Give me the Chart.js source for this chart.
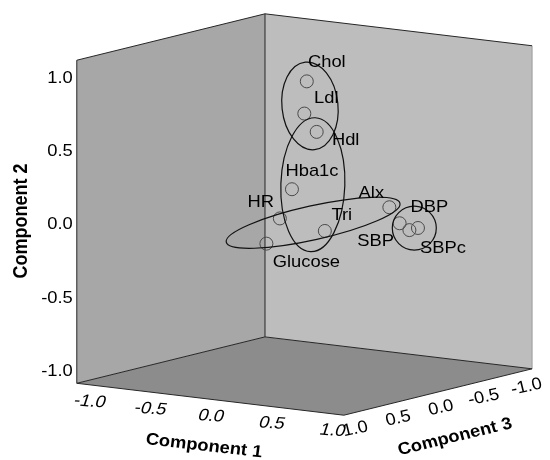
<!DOCTYPE html>
<html><head><meta charset="utf-8">
<script src="https://cdn.jsdelivr.net/npm/chart.js@4"></script>
<style>html,body{margin:0;padding:0;background:#fff}canvas{display:block}</style>
</head><body>
<canvas id="c" width="550" height="460"></canvas>
<script>
// ---- data (component loadings) ----
const variables  = ['Chol','Ldl','Hdl','Hba1c','HR','Glucose','Tri','Alx','DBP','SBP','SBPc'];
const component1 = [0.09, 0.14, -0.04, 0.32, 0.15, 0.18, 0.45, 0.77, 0.90, 0.89, 0.90];
const component2 = [0.93, 0.73, 0.53, 0.29, 0.06, -0.08, -0.01, 0.14, -0.01, 0.05, -0.01];
const component3 = [0.10, 0.20, -0.20, 0.60, 0.50, 0.70, 0.40, 0.10, 0.05, 0.15, -0.05];
const tickValues = [-1.0, -0.5, 0.0, 0.5, 1.0];
const tickLabels = ['-1.0', '-0.5', '0.0', '0.5', '1.0'];
const axisTitles = ['Component 1', 'Component 2', 'Component 3'];
const clusters = [['Chol','Ldl','Hdl'], ['Hdl','Hba1c','Tri'], ['HR','Glucose','Tri','Alx'], ['DBP','SBP','SBPc']];

// ---- view / style ----
const VIEW = {ox: 305.25, oy: 214, c1: [124.8, 15], c3: [-87.95, 21.8], c2: 151.8, lim: 1.1};
function project(a, b, c) {
  return {x: VIEW.ox + VIEW.c1[0]*a + VIEW.c3[0]*c, y: VIEW.oy + VIEW.c1[1]*a + VIEW.c3[1]*c - VIEW.c2*b};
}
const SX = 1.08;
const FONT = '"Liberation Sans", Arial, sans-serif';
const labelOffsets = {Chol:[20,-19], Ldl:[22,-15], Hdl:[29,8], Hba1c:[20,-18], HR:[-19,-16], Glucose:[40,19],
  Tri:[17,-16], Alx:[-18,-14], DBP:[20,-23], SBP:[-24,18], SBPc:[25,20]};
const ellipseStyles = [{dx:0.7,dy:-3,rx:28,ry:44,rot:-6},{dx:1.7,dy:0.7,rx:32,ry:67,rot:2},
  {dx:-2,dy:-2.3,rx:89,ry:17,rot:-12.6},{dx:5.3,dy:1,rx:22,ry:22,rot:0}];

const points = variables.map((v, i) => project(component1[i], component2[i], component3[i]));

function drawText(ctx, txt, x, y, o) {
  o = o || {};
  const ang = (o.angle || 0) * Math.PI / 180;
  const a2 = Math.atan2(SX * Math.sin(ang), Math.cos(ang));
  ctx.save();
  ctx.translate(x, y);
  ctx.scale(SX, 1);
  ctx.rotate(a2);
  if (o.skew) ctx.transform(1, 0, o.skew, 1, 0, 0);
  ctx.font = o.font || ('17px ' + FONT);
  ctx.fillStyle = o.color || '#000';
  ctx.textAlign = o.align || 'center';
  ctx.textBaseline = 'middle';
  ctx.fillText(txt, 0, 0);
  ctx.restore();
}

const boxPlugin = {
  id: 'box3d',
  beforeDatasetsDraw(chart) {
    const ctx = chart.ctx, sx = chart.scales.x, sy = chart.scales.y, L = VIEW.lim;
    const P = (a, b, c) => { const p = project(a, b, c); return [sx.getPixelForValue(p.x), sy.getPixelForValue(p.y)]; };
    const poly = (pts, fill) => { ctx.beginPath(); pts.forEach((p, i) => i ? ctx.lineTo(p[0], p[1]) : ctx.moveTo(p[0], p[1])); ctx.closePath(); ctx.fillStyle = fill; ctx.fill(); };
    const line = (p, q, col) => { ctx.beginPath(); ctx.moveTo(p[0], p[1]); ctx.lineTo(q[0], q[1]); ctx.strokeStyle = col; ctx.lineWidth = 1; ctx.stroke(); };
    const L0 = P(-L,-L,L), L1 = P(-L,L,L), B0 = P(-L,-L,-L), B1 = P(-L,L,-L), R0 = P(L,-L,-L), R1 = P(L,L,-L), F0 = P(L,-L,L);
    ctx.save();
    poly([L0, L1, B1, B0], '#a7a7a7');
    poly([B0, B1, R1, R0], '#bdbdbd');
    poly([L0, F0, R0, B0], '#8c8c8c');
    line(R0, R1, '#9a9a9a');
    const dk = '#262626';
    line(L0, L1, dk); line(L1, B1, dk); line(B1, R1, dk); line(B0, B1, dk);
    line(L0, B0, dk); line(B0, R0, dk); line(L0, F0, dk); line(F0, R0, dk);
    // tick labels
    tickValues.forEach((v, i) => {
      const p2 = P(-L, v, L);
      drawText(ctx, tickLabels[i], p2[0] - 4, p2[1] + 3, {align: 'right'});
      const p1 = P(v, -L, L);
      drawText(ctx, tickLabels[i], p1[0] + 1, p1[1] + 17, {angle: 4, skew: -0.22});
      const p3 = P(L, -L, v);
      drawText(ctx, tickLabels[i], p3[0] + 3, p3[1] + 16, {angle: -12});
    });
    const bold = 'bold 17px ' + FONT;
    drawText(ctx, axisTitles[0], 204, 446, {font: bold, angle: 6.5});
    drawText(ctx, axisTitles[1], 22, 221, {font: 'bold 18px ' + FONT, angle: -90});
    drawText(ctx, axisTitles[2], 455, 437, {font: bold, angle: -13.6});
    ctx.restore();
  },
  afterDatasetsDraw(chart) {
    const ctx = chart.ctx, sx = chart.scales.x, sy = chart.scales.y;
    ctx.save();
    clusters.forEach((grp, k) => {
      const st = ellipseStyles[k];
      let mx = 0, my = 0;
      grp.forEach(n => { const p = points[variables.indexOf(n)]; mx += p.x; my += p.y; });
      mx /= grp.length; my /= grp.length;
      const cx = sx.getPixelForValue(mx) + st.dx, cy = sy.getPixelForValue(my) + st.dy;
      ctx.beginPath();
      ctx.ellipse(cx, cy, st.rx, st.ry, st.rot * Math.PI / 180, 0, Math.PI * 2);
      ctx.strokeStyle = '#111'; ctx.lineWidth = 1.2; ctx.stroke();
    });
    variables.forEach((n, i) => {
      const p = points[i], off = labelOffsets[n];
      drawText(ctx, n, sx.getPixelForValue(p.x) + off[0], sy.getPixelForValue(p.y) + off[1]);
    });
    ctx.restore();
  }
};

new Chart(document.getElementById('c'), {
  type: 'scatter',
  data: {
    labels: variables,
    datasets: [{
      label: 'Loadings',
      data: points,
      pointRadius: 6.5,
      pointHoverRadius: 6.5,
      pointBorderColor: '#4a4a4a',
      pointBackgroundColor: 'rgba(0,0,0,0)',
      pointBorderWidth: 1,
      showLine: false
    }]
  },
  options: {
    responsive: false,
    animation: false,
    events: [],
    layout: {padding: 0},
    plugins: {legend: {display: false}, tooltip: {enabled: false}},
    scales: {
      x: {type: 'linear', min: 0, max: 550, display: false},
      y: {type: 'linear', min: 0, max: 460, reverse: true, display: false}
    }
  },
  plugins: [boxPlugin]
});
</script>
</body></html>
